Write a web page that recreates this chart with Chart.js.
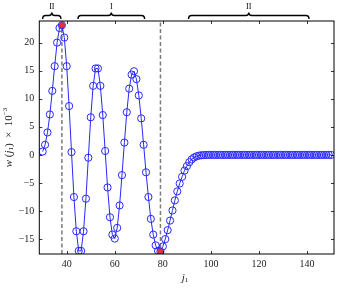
<!DOCTYPE html>
<html>
<head>
<meta charset="utf-8">
<script src="https://cdn.jsdelivr.net/npm/chart.js@4.4.0/dist/chart.umd.min.js"></script>
<style>
  html, body { margin: 0; padding: 0; background: #fff; }
</style>
</head>
<body>
<canvas id="chart" width="339" height="288"></canvas>
<script>
/* ── w(j1) profile ── */
const jIndex = [
  30, 31, 32, 33, 34, 35, 36, 37, 38, 39,
  40, 41, 42, 43, 44, 45, 46, 47, 48, 49,
  50, 51, 52, 53, 54, 55, 56, 57, 58, 59,
  60, 61, 62, 63, 64, 65, 66, 67, 68, 69,
  70, 71, 72, 73, 74, 75, 76, 77, 78, 79,
  80, 81, 82, 83, 84, 85, 86, 87, 88, 89,
  90, 91, 92, 93, 94, 95, 96, 97, 98, 99,
  100, 101, 102, 103, 104, 105, 106, 107, 108, 109,
  110, 111, 112, 113, 114, 115, 116, 117, 118, 119,
  120, 121, 122, 123, 124, 125, 126, 127, 128, 129,
  130, 131, 132, 133, 134, 135, 136, 137, 138, 139,
  140, 141, 142, 143, 144, 145, 146, 147, 148, 149,
  150
];
const wValues = [
  0.6, 1.8, 4.0, 7.2, 11.4, 15.8, 20.0, 22.6, 23.1, 20.9,
  15.8, 8.7, 0.5, -7.5, -13.6, -17.1, -17.1, -13.6, -7.8, -0.5,
  6.7, 12.3, 15.4, 15.4, 12.3, 7.1, 0.7, -5.8, -11.1, -14.2,
  -14.9, -13.0, -9.0, -3.6, 2.2, 7.6, 11.8, 14.3, 14.9, 13.5,
  10.6, 6.5, 1.8, -3.1, -7.5, -11.4, -14.2, -16.1, -17.1, -17.2,
  -16.3, -15.0, -13.4, -11.7, -9.9, -8.1, -6.5, -5.1, -3.9, -2.8,
  -2.0, -1.3, -0.8, -0.45, -0.25, -0.13, -0.06, -0.03, -0.01, 0,
  0, 0, 0, 0, 0, 0, 0, 0, 0, 0,
  0, 0, 0, 0, 0, 0, 0, 0, 0, 0,
  0, 0, 0, 0, 0, 0, 0, 0, 0, 0,
  0, 0, 0, 0, 0, 0, 0, 0, 0, 0,
  0, 0, 0, 0, 0, 0, 0, 0, 0, 0,
  0
];
const extremaJ = [38, 79];
const extremaW = [23.1, -17.2];
const boundaryJ = [38, 79];
const xTicks = [40, 60, 80, 100, 120, 140];
const yTicks = [-15, -10, -5, 0, 5, 10, 15, 20];
const xRange = [28.6, 151.2];
const yRange = [-17.65, 23.85];
const regionNames = ['II', 'I', 'II'];
const regionFrom  = [30, 44.7, 90.7];
const regionTo    = [37.6, 72.4, 140.8];

const BLUE = 'rgb(40,40,255)';
const SERIF = '"Liberation Serif", "DejaVu Serif", serif';

/* frame, inward ticks, braces, axis titles */
const decor = {
  id: 'decor',
  afterDraw(chart) {
    const { ctx, chartArea: a, scales: { x, y } } = chart;
    ctx.save();
    ctx.strokeStyle = '#000';
    ctx.lineWidth = 1;
    ctx.strokeRect(a.left, a.top, a.right - a.left, a.bottom - a.top);

    ctx.lineWidth = 0.8;
    ctx.beginPath();
    xTicks.forEach(v => {
      const px = Math.round(x.getPixelForValue(v)) + 0.5;
      ctx.moveTo(px, a.bottom); ctx.lineTo(px, a.bottom - 3);
      ctx.moveTo(px, a.top);    ctx.lineTo(px, a.top + 3);
    });
    yTicks.forEach(v => {
      const py = Math.round(y.getPixelForValue(v)) + 0.5;
      ctx.moveTo(a.left, py);  ctx.lineTo(a.left + 3, py);
      ctx.moveTo(a.right, py); ctx.lineTo(a.right - 3, py);
    });
    ctx.stroke();

    /* curly braces over regions */
    ctx.lineWidth = 1.4;
    ctx.fillStyle = '#000';
    ctx.font = '8px ' + SERIF;
    ctx.textAlign = 'center';
    ctx.textBaseline = 'middle';
    regionNames.forEach((name, i) => {
      const x0 = x.getPixelForValue(regionFrom[i]);
      const x1 = x.getPixelForValue(regionTo[i]);
      const xm = (x0 + x1) / 2;
      const yb = 19, yl = 15.5, yt = 12.5;
      ctx.beginPath();
      ctx.moveTo(x0, yb);
      ctx.quadraticCurveTo(x0, yl, x0 + 3, yl);
      ctx.lineTo(xm - 3, yl);
      ctx.quadraticCurveTo(xm, yl, xm, yt);
      ctx.quadraticCurveTo(xm, yl, xm + 3, yl);
      ctx.lineTo(x1 - 3, yl);
      ctx.quadraticCurveTo(x1, yl, x1, yb);
      ctx.stroke();
      ctx.fillText(name, xm, 6.5);
    });

    /* x title: j1 */
    ctx.fillStyle = '#222';
    ctx.textAlign = 'left';
    ctx.font = 'italic 11px ' + SERIF;
    const jw = ctx.measureText('j').width;
    ctx.font = '7px ' + SERIF;
    const sw = ctx.measureText('1').width;
    let cx = 185 - (jw + sw) / 2;
    ctx.font = 'italic 11px ' + SERIF;
    ctx.fillText('j', cx, 278);
    ctx.font = '7px ' + SERIF;
    ctx.fillText('1', cx + jw, 280.5);

    /* y title: w(j1) x 10^-3 */
    const parts = [
      { t: 'w', f: 'italic 11px', dy: 0 },
      { t: ' (', f: '11px', dy: 0 },
      { t: 'j', f: 'italic 11px', dy: 0 },
      { t: '1', f: '7px', dy: 2.5 },
      { t: ')  \u00d7  10', f: '11px', dy: 0 },
      { t: '\u22123', f: '7px', dy: -4 }
    ];
    let total = 0;
    parts.forEach(p => { ctx.font = p.f + ' ' + SERIF; p.w = ctx.measureText(p.t).width; total += p.w; });
    ctx.translate(9, (a.top + a.bottom) / 2);
    ctx.rotate(-Math.PI / 2);
    let px = -total / 2;
    parts.forEach(p => {
      ctx.font = p.f + ' ' + SERIF;
      ctx.fillText(p.t, px, p.dy);
      px += p.w;
    });
    ctx.restore();
  }
};

const datasets = [
  {
    data: extremaJ.map((j, i) => ({ x: j, y: extremaW[i] })),
    showLine: false,
    pointRadius: 2.8,
    pointBackgroundColor: '#e8304a',
    pointBorderColor: '#b02040',
    pointBorderWidth: 0.8
  },
  {
    data: jIndex.map((j, i) => ({ x: j, y: wValues[i] })),
    borderColor: BLUE,
    borderWidth: 1,
    tension: 0,
    pointRadius: 3.6,
    pointBackgroundColor: 'rgba(0,0,0,0)',
    pointBorderColor: BLUE,
    pointBorderWidth: 1
  }
];
boundaryJ.forEach(j => datasets.push({
  data: [{ x: j, y: yRange[0] }, { x: j, y: yRange[1] }],
  borderColor: '#7a7a7a',
  borderWidth: 1.5,
  borderDash: [4, 2.5],
  pointRadius: 0
}));

new Chart(document.getElementById('chart').getContext('2d'), {
  type: 'line',
  data: { datasets },
  options: {
    responsive: false,
    animation: false,
    layout: { padding: { top: 21, right: 4, left: 0, bottom: 0 } },
    plugins: { legend: { display: false }, tooltip: { enabled: false } },
    scales: {
      x: {
        type: 'linear', min: xRange[0], max: xRange[1],
        grid: { display: false, drawTicks: false }, border: { display: false },
        afterBuildTicks: s => { s.ticks = xTicks.map(v => ({ value: v })); },
        afterFit: s => { s.height = 34; },
        ticks: { color: '#222', padding: 4, font: { family: SERIF, size: 10 }, maxRotation: 0 }
      },
      y: {
        type: 'linear', min: yRange[0], max: yRange[1],
        grid: { display: false, drawTicks: false }, border: { display: false },
        afterBuildTicks: s => { s.ticks = yTicks.map(v => ({ value: v })); },
        afterFit: s => { s.width = 39.3; },
        ticks: {
          color: '#222', padding: 5, font: { family: SERIF, size: 10 },
          callback: v => (v < 0 ? '\u2212' + Math.abs(v) : String(v))
        }
      }
    }
  },
  plugins: [decor]
});
</script>
</body>
</html>
